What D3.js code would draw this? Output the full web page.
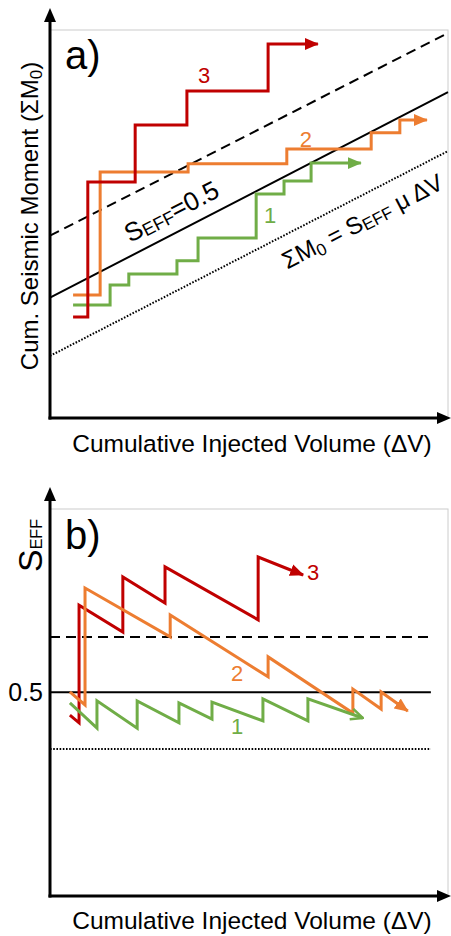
<!DOCTYPE html>
<html>
<head>
<meta charset="utf-8">
<script src="https://cdn.jsdelivr.net/npm/d3@7"></script>
<style>
body{margin:0;background:#fff;}
text{font-family:"Liberation Sans",Arial,sans-serif;}
</style>
</head>
<body>
<svg id="chart" width="451" height="936"></svg>
<script>
// ---- panel a: cumulative seismic moment, step curves (x breakpoints, y levels)
const redA_x = [5.8, 9.5, 21.4, 34.4, 54.8, 67.3];
const redA_y = [26.0, 60.8, 75.5, 84.3, 96.4];
const orangeA_x = [5.8, 12.6, 34.7, 59.5, 80.7, 87.9, 94.7];
const orangeA_y = [31.7, 63.4, 65.5, 69.3, 73.5, 76.8];
const greenA_x = [5.8, 15.1, 19.8, 31.9, 37.2, 51.8, 58.8, 65.6, 78.1];
const greenA_y = [29.1, 34.3, 37.1, 40.5, 46.4, 57.7, 61.1, 65.7];
// reference lines: y value at x=0 and x=100
const refA_dashed = [47.0, 99.2];
const refA_solid = [31.0, 84.0];
const refA_dotted = [16.0, 68.8];

// ---- panel b: S_EFF sawtooth curves
const redB_x = [5.0, 7.3, 7.3, 18.3, 18.3, 28.9, 28.9, 52.3, 52.3, 63.6];
const redB_y = [0.444, 0.425, 0.714, 0.648, 0.783, 0.719, 0.808, 0.678, 0.832, 0.788];
const orangeB_x = [5.0, 8.8, 8.8, 30.2, 30.2, 54.8, 54.8, 76.1, 76.1, 83.2, 83.2, 89.9];
const orangeB_y = [0.501, 0.469, 0.756, 0.636, 0.690, 0.538, 0.587, 0.449, 0.508, 0.459, 0.501, 0.454];
const greenB_x = [5.0, 11.8, 11.8, 21.9, 21.9, 32.4, 32.4, 40.7, 40.7, 53.5, 53.5, 64.8, 64.8, 78.6];
const greenB_y = [0.474, 0.412, 0.479, 0.412, 0.479, 0.425, 0.474, 0.434, 0.476, 0.430, 0.484, 0.430, 0.484, 0.437];
const refB_levels = [0.636, 0.5, 0.361];   // dashed, solid, dotted
const refB_end = 95.7;
const yTicksB = [0.5];

const RED = "#c00000", ORANGE = "#ed7d31", GREEN = "#70ad47";

var svg = d3.select("#chart");
var defs = svg.append("defs");

// arrow heads
function arrow(id, color, open){
    var m = defs.append("marker")
        .attr("id", id)
        .attr("markerUnits", "userSpaceOnUse")
        .attr("viewBox", "0 0 14 14")
        .attr("refX", 13).attr("refY", 7)
        .attr("markerWidth", 14).attr("markerHeight", 14)
        .attr("orient", "auto");
    if(open){
        m.append("path").attr("d", "M1,1.5 L13,7 L1,12.5")
         .attr("fill", "none").attr("stroke", color).attr("stroke-width", 2.5);
    } else {
        m.append("path").attr("d", "M0,1 L14,7 L0,13 Z").attr("fill", color);
    }
}
arrow("arR", RED); arrow("arO", ORANGE); arrow("arG", GREEN); arrow("arGo", GREEN, true);

var xA = d3.scaleLinear().domain([0, 100]).range([50, 448]);
var yA = d3.scaleLinear().domain([0, 100]).range([418, 30]);
var xB = d3.scaleLinear().domain([0, 100]).range([50, 448]);
var yB = d3.scaleLinear().domain([0, 0.95]).range([896, 509]);

function frame(x, y){
    var x0 = x.range()[0], x1 = x.range()[1], y0 = y.range()[0], y1 = y.range()[1];
    svg.append("rect")
       .attr("x", x0).attr("y", y1)
       .attr("width", x1 - x0).attr("height", y0 - y1)
       .attr("fill", "none").attr("stroke", "#cccccc").attr("stroke-width", 1);
}
function axes(x, y){
    var x0 = x.range()[0], y0 = y.range()[0], y1 = y.range()[1];
    svg.append("line").attr("x1", x0).attr("y1", y0 + 1.5).attr("x2", x0).attr("y2", y1 - 12)
       .attr("stroke", "#000").attr("stroke-width", 3);
    svg.append("path").attr("d", `M${x0},${y1-22} L${x0-6},${y1-8} L${x0+6},${y1-8} Z`);
    svg.append("line").attr("x1", x0 - 1.5).attr("y1", y0).attr("x2", 440).attr("y2", y0)
       .attr("stroke", "#000").attr("stroke-width", 3);
    svg.append("path").attr("d", `M451,${y0} L437,${y0-6} L437,${y0+6} Z`);
}

// ================= panel a =================
frame(xA, yA);

var refLine = (vals) => [[0, vals[0]], [100, vals[1]]];
var lineA = d3.line().x(d => xA(d[0])).y(d => yA(d[1]));
[[refA_dashed, "10,6"], [refA_solid, null], [refA_dotted, "1.6,1.6"]].forEach(r => {
    svg.append("path").attr("d", lineA(refLine(r[0])))
       .attr("fill", "none").attr("stroke", "#000")
       .attr("stroke-width", 2)
       .attr("stroke-dasharray", r[1]);
});

var stepA = d3.line().x(d => xA(d[0])).y(d => yA(d[1])).curve(d3.curveStepAfter);
function steps(xs, ys){
    return xs.map((v, i) => [v, ys[Math.min(i, ys.length - 1)]]);
}
[[greenA_x, greenA_y, GREEN, "arG"], [orangeA_x, orangeA_y, ORANGE, "arO"], [redA_x, redA_y, RED, "arR"]]
  .forEach(s => {
    svg.append("path").attr("d", stepA(steps(s[0], s[1])))
       .attr("fill", "none").attr("stroke", s[2]).attr("stroke-width", 3)
       .attr("marker-end", `url(#${s[3]})`);
  });

axes(xA, yA);

// slope angle of the reference lines
var ang = Math.atan2(yA(refA_solid[1]) - yA(refA_solid[0]), xA(100) - xA(0)) * 180 / Math.PI;

var t1 = svg.append("text")
    .attr("transform", `translate(${xA(20.1)},${yA(45.1)}) rotate(${ang})`)
    .attr("font-size", 26);
t1.append("tspan").text("S");
t1.append("tspan").attr("font-size", 18).attr("dy", 2).text("EFF");
t1.append("tspan").attr("dy", -2).text("=0.5");

var t2 = svg.append("text")
    .attr("transform", `translate(${xA(59.6)},${yA(38.3)}) rotate(${ang})`)
    .attr("font-size", 24);
t2.append("tspan").text("ΣM");
t2.append("tspan").attr("font-size", 17).attr("dy", 4).text("0");
t2.append("tspan").attr("dy", -4).text(" = S");
t2.append("tspan").attr("font-size", 17).attr("dy", 2).text("EFF");
t2.append("tspan").attr("dy", -2).text(" μ ΔV");

// curve numbers
[["3", 38.7, 88.4, RED], ["2", 64.3, 71.9, ORANGE], ["1", 55.3, 52.1, GREEN]].forEach(l => {
    svg.append("text").attr("x", xA(l[1])).attr("y", yA(l[2]))
       .attr("text-anchor", "middle").attr("dominant-baseline", "central")
       .attr("font-size", 22).attr("fill", l[3]).text(l[0]);
});

svg.append("text").attr("x", 65).attr("y", 69).attr("font-size", 40).text("a)");

var yl = svg.append("text")
    .attr("transform", "translate(38,216) rotate(-90)")
    .attr("text-anchor", "middle").attr("font-size", 24);
yl.append("tspan").text("Cum. Seismic Moment (ΣM");
yl.append("tspan").attr("font-size", 17).attr("dy", 4).text("0");
yl.append("tspan").attr("dy", -4).text(")");

svg.append("text").attr("x", 252).attr("y", 452)
   .attr("text-anchor", "middle").attr("font-size", 24.5)
   .text("Cumulative Injected Volume (ΔV)");

// ================= panel b =================
frame(xB, yB);

var lineB = d3.line().x(d => xB(d[0])).y(d => yB(d[1]));
refB_levels.forEach((v, i) => {
    svg.append("path").attr("d", lineB([[0, v], [refB_end, v]]))
       .attr("fill", "none").attr("stroke", "#000").attr("stroke-width", 2)
       .attr("stroke-dasharray", i == 0 ? "10,6" : (i == 2 ? "1.6,1.6" : null));
});

[[redB_x, redB_y, RED, "arR"], [orangeB_x, orangeB_y, ORANGE, "arO"], [greenB_x, greenB_y, GREEN, "arGo"]]
  .forEach(s => {
    svg.append("path").attr("d", lineB(s[0].map((v, i) => [v, s[1][i]])))
       .attr("fill", "none").attr("stroke", s[2]).attr("stroke-width", 3)
       .attr("stroke-linejoin", "miter")
       .attr("marker-end", `url(#${s[3]})`);
  });

axes(xB, yB);

var axB = svg.append("g").attr("transform", `translate(${xB.range()[0]},0)`)
    .call(d3.axisLeft(yB).tickValues(yTicksB).tickSize(0).tickPadding(7).tickFormat(d3.format(".1f")));
axB.select(".domain").remove();
axB.selectAll("text").attr("font-size", 25).attr("font-family", "Liberation Sans, Arial, sans-serif").attr("fill", "#000");

[["3", 66.1, 0.795, RED], ["2", 47.0, 0.547, ORANGE], ["1", 47.0, 0.417, GREEN]].forEach(l => {
    svg.append("text").attr("x", xB(l[1])).attr("y", yB(l[2]))
       .attr("text-anchor", "middle").attr("dominant-baseline", "central")
       .attr("font-size", 22).attr("fill", l[3]).text(l[0]);
});

svg.append("text").attr("x", 65).attr("y", 549).attr("font-size", 40).text("b)");

var ylb = svg.append("text")
    .attr("transform", "translate(42,572) rotate(-90)")
    .attr("font-size", 34);
ylb.append("tspan").text("S");
ylb.append("tspan").attr("font-size", 16).text("EFF");

svg.append("text").attr("x", 252).attr("y", 929)
   .attr("text-anchor", "middle").attr("font-size", 24.5)
   .text("Cumulative Injected Volume (ΔV)");
</script>
</body>
</html>
